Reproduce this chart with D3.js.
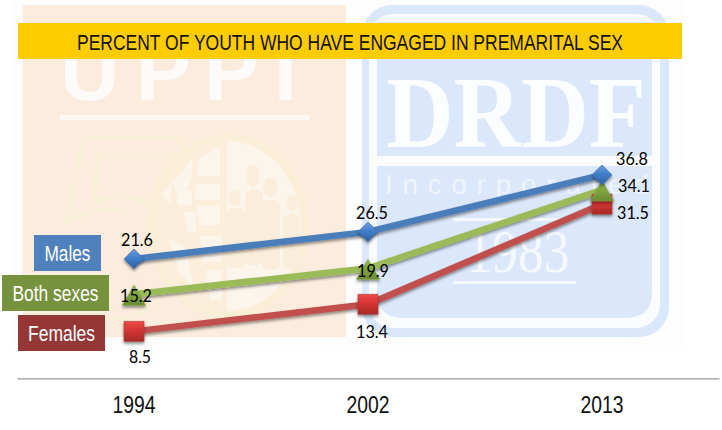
<!DOCTYPE html>
<html>
<head>
<meta charset="utf-8">
<script src="https://cdn.jsdelivr.net/npm/d3@7"></script>
<style>
  html, body { margin: 0; padding: 0; background: #fff; }
  svg { display: block; }
</style>
</head>
<body>
<div id="chart"></div>
<script>
// chart values
var years = ["1994", "2002", "2013"];
var seriesNames = ["Males", "Both sexes", "Females"];
var males = [21.6, 26.5, 36.8];
var bothSexes = [15.2, 19.9, 34.1];
var females = [8.5, 13.4, 31.5];
var chartTitle = "PERCENT OF YOUTH WHO HAVE ENGAGED IN PREMARITAL SEX";

var width = 722, height = 430;

var svg = d3.select("#chart").append("svg")
  .attr("width", width)
  .attr("height", height);

var defs = svg.append("defs");

// soft shadow under lines and markers
var shadow = defs.append("filter").attr("id", "shadow")
  .attr("x", "-20%").attr("y", "-40%").attr("width", "140%").attr("height", "200%");
shadow.append("feDropShadow")
  .attr("dx", 0).attr("dy", 2).attr("stdDeviation", 1.6)
  .attr("flood-color", "#000").attr("flood-opacity", 0.45);

var blur = defs.append("filter").attr("id", "soft");
blur.append("feGaussianBlur").attr("stdDeviation", 0.7);

// glossy marker fills
function gloss(id, top, mid, bottom) {
  var g = defs.append("linearGradient").attr("id", id)
    .attr("x1", 0).attr("y1", 0).attr("x2", 0).attr("y2", 1);
  g.append("stop").attr("offset", "0%").attr("stop-color", top);
  g.append("stop").attr("offset", "50%").attr("stop-color", mid);
  g.append("stop").attr("offset", "100%").attr("stop-color", bottom);
}
gloss("glossBlue", "#6a9fe0", "#3f7cc8", "#2f5f9f");
gloss("glossGreen", "#93bd4b", "#7fa53f", "#6a8c33");
gloss("glossRed", "#ee4a46", "#d13431", "#a52a28");

// watermark backdrop
var wm = svg.append("g").attr("filter", "url(#soft)");

wm.append("rect").attr("x", 10).attr("y", 0).attr("width", 672).attr("height", 351).attr("fill", "#fdfdfe");

// left logo
wm.append("rect").attr("x", 23).attr("y", 5).attr("width", 323).attr("height", 332).attr("fill", "#fbecdd");

var uppi = ["U", "P", "P", "I"];
var uppiX = [60, 136, 204, 274];
wm.selectAll(".uppi").data(uppi).enter().append("text")
  .attr("x", function(d, i) { return uppiX[i]; })
  .attr("y", 100)
  .attr("fill", "#fdfafa")
  .style("font-family", "'Liberation Sans', sans-serif")
  .style("font-weight", "bold")
  .style("font-size", "82px")
  .text(function(d) { return d; });
wm.append("rect").attr("x", 60).attr("y", 115).attr("width", 250).attr("height", 5).attr("fill", "#fdf8f3");

// the "5", outline only
wm.append("path")
  .attr("d", "M84 138H183L180 155H100L92 203Q120 190 150 204M84 138L66 222Q95 205 125 212")
  .attr("fill", "none").attr("stroke", "#f9f0d9").attr("stroke-width", 5);
wm.append("path")
  .attr("d", "M150 210Q178 240 165 285Q150 325 95 318")
  .attr("fill", "none").attr("stroke", "#f9f0d9").attr("stroke-width", 5);

// the globe
wm.append("ellipse").attr("cx", 228).attr("cy", 226).attr("rx", 78).attr("ry", 89)
  .attr("fill", "#fbeedb").attr("stroke", "#f9efd6").attr("stroke-width", 6);
wm.append("path")
  .attr("d", "M227 141A74 85 0 0 1 227 311Z").attr("fill", "#fcf5ec");
var cells = [
  "M199 158L220 146V176H197Z", "M196 184H220V200H195Z",
  "M172 184L192 160V177L184 198Z", "M176 190L192 190V206L178 204Z",
  "M163 194L172 182L170 205Z", "M196 206H220V225H200Z",
  "M184 212H196V232H188Z", "M200 236H222V262H202Z",
  "M205 270H222V300H210Z", "M170 240L186 248L194 290L178 270Z"
];
wm.selectAll(".cell").data(cells).enter().append("path")
  .attr("d", function(d) { return d; })
  .attr("fill", "#fcf5ec");
// family in the globe
var heads = [[253, 176, 7, 11], [270, 187, 7, 10], [235, 198, 6, 8], [292, 203, 6, 8]];
var bodies = [[245, 190, 18, 75], [262, 200, 18, 70], [227, 208, 18, 60], [283, 214, 17, 55]];
heads.forEach(function(p) {
  wm.append("ellipse").attr("cx", p[0]).attr("cy", p[1]).attr("rx", p[2]).attr("ry", p[3]).attr("fill", "#fbeddb");
});
bodies.forEach(function(p) {
  wm.append("rect").attr("x", p[0]).attr("y", p[1]).attr("width", p[2]).attr("height", p[3]).attr("rx", 6).attr("fill", "#fbeddb");
});

// right logo
wm.append("rect").attr("x", 362).attr("y", 5).attr("width", 307).attr("height", 332).attr("rx", 30).attr("fill", "#dbe7fa");
wm.append("rect").attr("x", 369).attr("y", 14).attr("width", 291).attr("height", 314).attr("rx", 24).attr("fill", "#fbfcfe");
wm.append("path")
  .attr("d", "M377 22H652V156H377Z")
  .attr("fill", "#dbe7fa");
wm.append("path")
  .attr("d", "M377 166H652V292Q652 318 626 318H403Q377 318 377 292Z")
  .attr("fill", "#dbe7fa");
wm.append("text").attr("x", 516).attr("y", 147).attr("text-anchor", "middle")
  .attr("fill", "#fcfdfe")
  .attr("textLength", 260).attr("lengthAdjust", "spacingAndGlyphs")
  .style("font-family", "'Liberation Serif', serif")
  .style("font-weight", "bold")
  .style("font-size", "102px")
  .text("DRDF");
wm.append("text").attr("x", 517).attr("y", 194).attr("text-anchor", "middle")
  .attr("fill", "#eff4fc")
  .attr("textLength", 264).attr("lengthAdjust", "spacing")
  .style("font-family", "'Liberation Sans', sans-serif")
  .style("font-size", "28px")
  .text("Incorporated");
wm.append("text").attr("x", 518).attr("y", 272).attr("text-anchor", "middle")
  .attr("fill", "#f5f8fd")
  .attr("textLength", 103).attr("lengthAdjust", "spacingAndGlyphs")
  .style("font-family", "'Liberation Serif', serif")
  .style("font-size", "62px")
  .text("1983");
wm.append("rect").attr("x", 453).attr("y", 281).attr("width", 123).attr("height", 3).attr("fill", "#f5f8fd");
wm.append("rect").attr("x", 453).attr("y", 218).attr("width", 123).attr("height", 3).attr("fill", "#f5f8fd");

// title bar
svg.append("rect").attr("x", 18).attr("y", 23).attr("width", 664).attr("height", 36).attr("fill", "#ffcc00");
svg.append("text")
  .attr("x", 350).attr("y", 49.5)
  .attr("text-anchor", "middle")
  .attr("fill", "#111")
  .attr("textLength", 546).attr("lengthAdjust", "spacingAndGlyphs")
  .style("font-family", "'Liberation Sans', sans-serif")
  .style("font-size", "22.5px")
  .text(chartTitle);

// scales
var x = d3.scaleBand().domain(years).range([17, 719]);
var y = d3.scaleLinear().domain([0, 40]).range([378.4, 157.2]);

function px(i) { return x(years[i]) + x.bandwidth() / 2; }

// x axis
var xAxis = svg.append("g")
  .attr("transform", "translate(0," + y(0) + ")")
  .call(d3.axisBottom(x).tickSize(0).tickPadding(18));
xAxis.select(".domain").attr("stroke", "#999").attr("stroke-width", 1.2);
xAxis.selectAll("text")
  .attr("fill", "#111")
  .attr("textLength", 43).attr("lengthAdjust", "spacingAndGlyphs")
  .style("font-family", "'Liberation Sans', sans-serif")
  .style("font-size", "24px");

// series
var line = d3.line()
  .x(function(d, i) { return px(i); })
  .y(function(d) { return y(d); });

var seriesData = [
  {name: seriesNames[2], values: females, color: "#c0504d", fill: "url(#glossRed)", edge: "#a83a38", symbol: d3.symbolSquare, size: 400, shift: 0, dx: [6, 4, 31], dy: [25.5, 27, 8]},
  {name: seriesNames[1], values: bothSexes, color: "#9bbb59", fill: "url(#glossGreen)", edge: "#7f9f42", symbol: d3.symbolTriangle, size: 231, shift: 4.3, dx: [2, 5, 32], dy: [1, 2, -4]},
  {name: seriesNames[0], values: males, color: "#4a7ebb", fill: "url(#glossBlue)", edge: "#3a6aa5", symbol: d3.symbolDiamond2, size: 250, shift: 0, dx: [3, 4, 30], dy: [-19, -19, -16]}
];

seriesData.forEach(function(s) {
  svg.append("path")
    .datum(s.values)
    .attr("d", line)
    .attr("fill", "none")
    .attr("stroke", s.color)
    .attr("stroke-width", 6.5)
    .attr("filter", "url(#shadow)");
});

seriesData.forEach(function(s) {
  svg.selectAll(null)
    .data(s.values)
    .enter().append("path")
    .attr("d", d3.symbol().type(s.symbol).size(s.size))
    .attr("transform", function(d, i) { return "translate(" + px(i) + "," + (y(d) + s.shift) + ")"; })
    .attr("fill", s.fill)
    .attr("stroke", s.edge)
    .attr("stroke-width", 0.6)
    .attr("filter", "url(#shadow)");
});

// data labels
seriesData.forEach(function(s) {
  svg.selectAll(null)
    .data(s.values)
    .enter().append("text")
    .attr("x", function(d, i) { return px(i) + s.dx[i]; })
    .attr("y", function(d, i) { return y(d) + s.dy[i]; })
    .attr("dy", "0.36em")
    .attr("text-anchor", "middle")
    .attr("fill", "#000")
    .attr("textLength", function(d) { return d < 10 ? 22 : 32; })
    .attr("lengthAdjust", "spacingAndGlyphs")
    .style("font-family", "Lato, sans-serif")
    .style("font-size", "17.5px")
    .text(function(d) { return d.toFixed(1); });
});

// series name boxes
var boxX = [34, 2, 18];
var boxW = [67, 107, 87];
var boxY = [235, 275, 315];
var boxFill = ["#4f81bd", "#76923c", "#953735"];
var boxTextW = [46, 86, 67];
var boxes = svg.selectAll(".nameBox").data(seriesNames).enter().append("g").attr("class", "nameBox");
boxes.append("rect")
  .attr("x", function(d, i) { return boxX[i]; })
  .attr("y", function(d, i) { return boxY[i]; })
  .attr("width", function(d, i) { return boxW[i]; })
  .attr("height", 36)
  .attr("fill", function(d, i) { return boxFill[i]; });
boxes.append("text")
  .attr("x", function(d, i) { return boxX[i] + boxW[i] / 2; })
  .attr("y", function(d, i) { return boxY[i] + 26; })
  .attr("text-anchor", "middle")
  .attr("fill", "#fff")
  .attr("textLength", function(d, i) { return boxTextW[i]; })
  .attr("lengthAdjust", "spacingAndGlyphs")
  .style("font-family", "'Liberation Sans', sans-serif")
  .style("font-size", "21.5px")
  .text(function(d) { return d; });
</script>
</body>
</html>
